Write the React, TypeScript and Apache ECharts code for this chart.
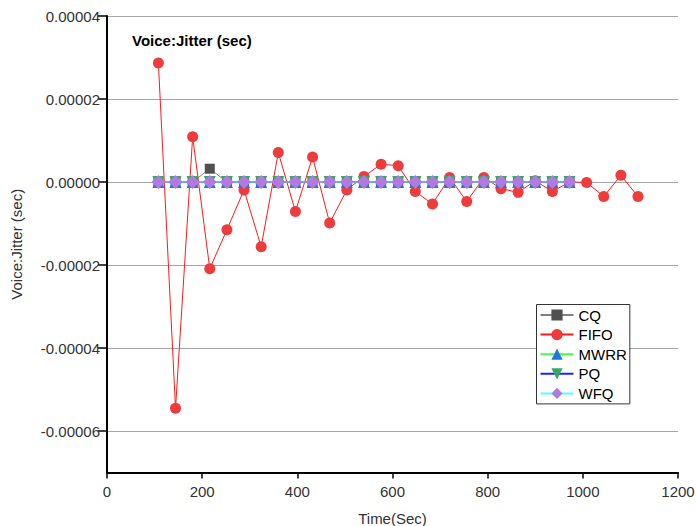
import React, { useEffect, useRef } from "react";
import * as echarts from "echarts";

const timesLong = [108, 144, 180, 216, 252, 288, 324, 360, 396, 432, 468, 504, 540, 576, 612, 648, 684, 720, 756, 792, 828, 864, 900, 936, 972, 1008, 1044, 1080, 1116];
const timesShort = timesLong.slice(0, 25);

const fifoValues = [2.87e-5, -5.45e-5, 1.09e-5, -2.09e-5, -1.15e-5, -1.9e-6, -1.56e-5, 7.1e-6, -7.1e-6, 6.0e-6, -9.9e-6, -1.9e-6, 1.3e-6, 4.3e-6, 3.9e-6, -2.3e-6, -5.3e-6, 1.1e-6, -4.7e-6, 1.1e-6, -1.6e-6, -2.5e-6, 0.3e-6, -2.3e-6, 0, -0.1e-6, -3.5e-6, 1.6e-6, -3.5e-6];
const cqValues = [0, 0, 0, 3.2e-6, 0, 0, 0, 0, 0, 0, 0, 0, 0, 0, 0, 0, 0, 0, 0, 0, 0, 0, 0, 0, 0];
const mwrrValues = [0, 0, 0, 0, 0, 0, 0, 0, 0, 0, 0, 0, 0, 0, 0, 0, 0, 0, 0, 0, 0, 0, 0, 0, 0];
const pqValues = [0, 0, 0, 0, 0, 0, 0, 0, 0, 0, 0, 0, 0, 0, 0, 0, 0, 0, 0, 0, 0, 0, 0, 0, 0];
const wfqValues = [0, 0, 0, 0, 0, 0, 0, 0, 0, 0, 0, 0, 0, 0, 0, 0, 0, 0, 0, 0, 0, 0, 0, 0, 0];

const yTickValues = [-0.00006, -0.00004, -0.00002, 0, 0.00002, 0.00004];
const seriesNames = ["CQ", "FIFO", "MWRR", "PQ", "WFQ"];

const FONT = "'Liberation Sans', Arial, sans-serif";

function pairs(xs: number[], ys: number[]) {
  return ys.map((v, i) => [xs[i], v]);
}

export default function App() {
  const ref = useRef<HTMLDivElement>(null);
  useEffect(() => {
    if (!ref.current) return;
    const chart = echarts.init(ref.current, undefined, { renderer: "svg" });
    const mk = (
      name: string,
      data: number[][],
      lineColor: string,
      markColor: string,
      symbol: string,
      size: number,
      rotate = 0
    ) => ({
      name,
      type: "line",
      data,
      symbol,
      symbolSize: size,
      symbolRotate: rotate,
      showAllSymbol: true,
      lineStyle: { color: lineColor, width: 1 },
      itemStyle: { color: markColor, borderWidth: 0 },
      emphasis: { disabled: true },
    });
    chart.setOption({
      animation: false,
      backgroundColor: "#ffffff",
      title: {
        text: "Voice:Jitter (sec)",
        left: 132,
        top: 33,
        padding: 0,
        textStyle: { fontFamily: FONT, fontSize: 15, fontWeight: "bold", color: "#000" },
      },
      grid: { left: 107, right: 18, top: 16, bottom: 53.5, containLabel: false, outerBoundsMode: "none" },
      legend: {
        data: seriesNames,
        orient: "vertical",
        left: 536.5,
        top: 304.5,
        padding: [3, 3, 3, 3],
        itemWidth: 33,
        itemHeight: 14,
        itemGap: 4.6,
        borderColor: "#333",
        borderWidth: 1,
        backgroundColor: "#fff",
        textStyle: { fontFamily: FONT, fontSize: 15, color: "#000", lineHeight: 14, padding: [0, 0, 0, 0] },
      },
      xAxis: {
        type: "value",
        min: 0,
        max: 1200,
        interval: 200,
        name: "Time(Sec)",
        nameLocation: "middle",
        nameGap: 38,
        nameTextStyle: { fontFamily: FONT, fontSize: 15, color: "#333" },
        axisLine: { onZero: false, lineStyle: { color: "#000", width: 2 } },
        axisTick: { show: true, length: 6, lineStyle: { color: "#000", width: 1.5 } },
        axisLabel: { fontFamily: FONT, fontSize: 15, color: "#333", margin: 11, formatter: (v: number) => String(v) },
        splitLine: { show: false },
      },
      yAxis: {
        type: "value",
        min: -0.00007,
        max: 0.00004,
        name: "Voice:Jitter (sec)",
        nameLocation: "middle",
        nameGap: 83,
        nameTextStyle: { fontFamily: FONT, fontSize: 15, color: "#333" },
        axisLine: { show: true, lineStyle: { color: "#000", width: 2 } },
        axisTick: { show: true, length: 9, customValues: yTickValues, lineStyle: { color: "#000", width: 1.5 } },
        axisLabel: {
          fontFamily: FONT,
          fontSize: 15,
          color: "#333",
          margin: 7,
          customValues: yTickValues,
          formatter: (v: number) => v.toFixed(5),
        },
        splitLine: { show: true, lineStyle: { color: "#a6a6a6", width: 1 } },
      },
      series: [
        mk("CQ", pairs(timesShort, cqValues), "#808080", "#505050", "rect", 10),
        mk("FIFO", pairs(timesLong, fifoValues), "#ff1a1a", "#ee3b3b", "circle", 11),
        mk("MWRR", pairs(timesShort, mwrrValues), "#44ff44", "#2277dd", "triangle", 12),
        mk("PQ", pairs(timesShort, pqValues), "#2020ff", "#36a862", "triangle", 12, 180),
        mk("WFQ", pairs(timesShort, wfqValues), "#55ffff", "#b07ae0", "diamond", 14),
      ],
    });
    return () => chart.dispose();
  }, []);
  return <div ref={ref} style={{ position: "fixed", left: 0, top: 0, width: 696, height: 526 }} />;
}
